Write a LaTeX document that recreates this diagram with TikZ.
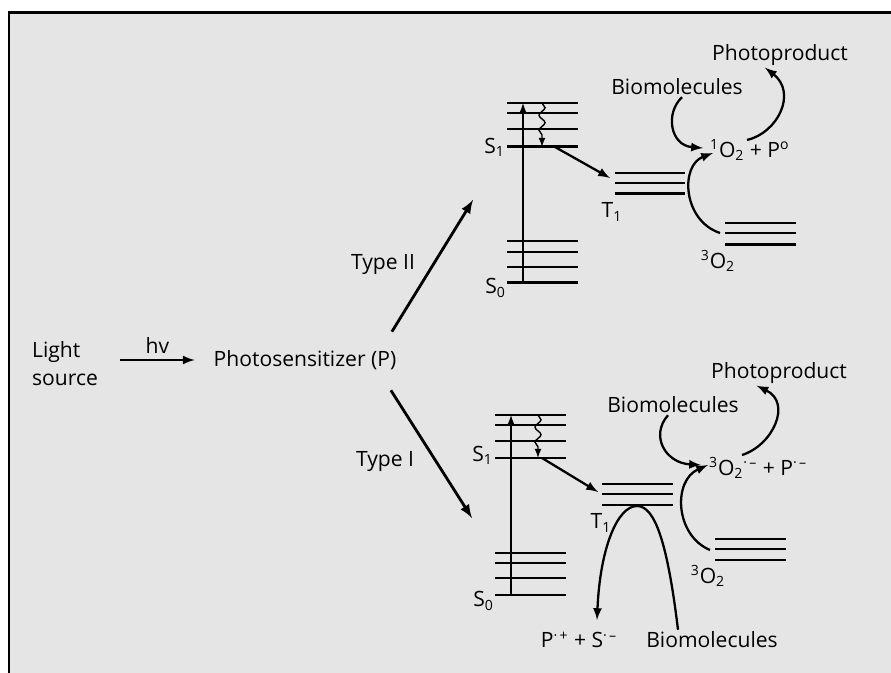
\documentclass[tikz,border=0pt]{standalone}
\usepackage{fontspec}
\setmainfont{Open Sans}
\usetikzlibrary{decorations.pathmorphing}

\begin{document}
\begin{tikzpicture}[
    >=latex,
    lvl/.style={line width=1.1pt},
    lvlbase/.style={line width=1.7pt},
    arr/.style={->, line width=1.3pt},
    bigarr/.style={->, line width=1.6pt},
    wave/.style={->, line width=0.8pt, decorate,
        decoration={snake, amplitude=0.6mm, segment length=3mm, post length=1mm}},
    lab/.style={font=\fontsize{12}{15.5}\selectfont, inner sep=1pt}
]

% background and frame
\useasboundingbox (0,0) rectangle (17.82,13.46);
\fill[black!10] (0.18,0) rectangle (17.82,13.2);
\draw[line width=1.7pt] (0.18,0) |- (17.82,13.2);

% light source and photosensitizer
\node[lab, align=left] (light) at (1.30,6.19) {Light\\source};
\node[lab] (ps) at (6.10,6.26) {Photosensitizer (P)};
\draw[arr] (light.east |- ps.west) ++(0.40,0) -- ([xshift=-0.34cm]ps.west)
    node[lab, midway, above=2pt] (hv) {hv};

% branches
\coordinate (tIIend) at (9.46,9.46);
\coordinate (tIend) at (9.44,3.10);
\draw[bigarr] ([shift={(-0.13,0.33)}]ps.north east) -- (tIIend);
\draw[bigarr] ([shift={(-0.15,-0.37)}]ps.south east) -- (tIend);
\node[lab] (typeII) at (7.66,8.16) {Type II};
\node[lab] (typeI) at (7.70,4.22) {Type I};

% ---- Type II levels ----
\foreach \y in {11.40,11.20,10.88} \draw[lvl] (10.14,\y) -- (11.56,\y);
\draw[lvlbase] (10.14,10.52) -- (11.56,10.52);
\foreach \y in {8.64,8.42,8.12} \draw[lvl] (10.14,\y) -- (11.56,\y);
\draw[lvlbase] (10.14,7.80) -- (11.56,7.80);
\node[lab, left] (sIIa) at (10.14,10.52) {S\textsubscript{1}};
\node[lab, left] (sIIb) at (10.16,7.70) {S\textsubscript{0}};
\draw[arr, line width=1pt] (10.46,7.80) -- (10.46,11.40);
\draw[wave] (10.84,11.40) -- (10.84,10.52);

% T1
\foreach \y in {10.00,9.80} \draw[lvl] (12.30,\y) -- (13.70,\y);
\draw[lvlbase] (12.30,9.58) -- (13.70,9.58);
\node[lab] (tIIa) at (12.24,9.22) {T\textsubscript{1}};
\draw[arr] (11.10,10.52) -- (12.20,9.90);

% 3O2
\foreach \y in {9.00,8.80} \draw[lvl] (14.50,\y) -- (15.92,\y);
\draw[lvlbase] (14.50,8.56) -- (15.92,8.56);
\node[lab] (oxIIa) at (14.36,8.24) {\textsuperscript{3}O\textsubscript{2}};

% singlet oxygen step
\node[lab, anchor=west] (oxIIb) at (14.16,10.46) {\textsuperscript{1}O\textsubscript{2} + P\textsuperscript{o}};
\node[lab] (bioII) at (13.54,11.72) {Biomolecules};
\node[lab] (prodII) at (15.60,12.36) {Photoproduct};
\draw[arr] (14.40,8.80) .. controls (13.65,9.05) and (13.60,10.15) .. (14.26,10.40);
\draw[arr] ([xshift=0.1cm]bioII.south) .. controls (13.30,11.20) and (13.40,10.55) .. (14.06,10.50);
\draw[arr] (14.94,10.66) .. controls (15.55,10.80) and (15.95,11.60) .. ([xshift=-0.3cm]prodII.south);

% ---- Type I levels ----
\foreach \y in {5.16,4.96,4.64} \draw[lvl] (9.90,\y) -- (11.32,\y);
\draw[lvlbase] (9.90,4.30) -- (11.32,4.30);
\foreach \y in {2.40,2.20,1.90} \draw[lvl] (9.90,\y) -- (11.32,\y);
\draw[lvlbase] (9.90,1.56) -- (11.32,1.56);
\node[lab, left] (sIa) at (9.90,4.36) {S\textsubscript{1}};
\node[lab, left] (sIb) at (9.92,1.44) {S\textsubscript{0}};
\draw[arr, line width=1pt] (10.22,1.56) -- (10.22,5.16);
\draw[wave] (10.76,5.16) -- (10.76,4.30);

% T1
\foreach \y in {3.78,3.58} \draw[lvl] (12.04,\y) -- (13.46,\y);
\draw[lvlbase] (12.04,3.36) -- (13.46,3.36);
\node[lab] (tIa) at (12.02,3.00) {T\textsubscript{1}};
\draw[arr] (10.84,4.30) -- (11.96,3.62);

% 3O2
\foreach \y in {2.68,2.48} \draw[lvl] (14.30,\y) -- (15.72,\y);
\draw[lvlbase] (14.30,2.26) -- (15.72,2.26);
\node[lab] (oxIa) at (14.16,1.94) {\textsuperscript{3}O\textsubscript{2}};

% superoxide step
\node[lab, anchor=west] (oxIb) at (14.14,4.10) {\textsuperscript{3}O\textsubscript{2}\textsuperscript{·\,–} + P\textsuperscript{·\,–}};
\node[lab] (bioI) at (13.46,5.36) {Biomolecules};
\node[lab] (prodI) at (15.58,6.00) {Photoproduct};
\draw[arr] (14.20,2.46) .. controls (13.50,2.75) and (13.45,3.85) .. (14.16,4.16);
\draw[arr] ([xshift=-0.1cm]bioI.south) .. controls (13.00,4.75) and (13.30,4.20) .. (14.02,4.16);
\draw[arr] (14.84,4.36) .. controls (15.45,4.55) and (15.85,5.40) .. ([xshift=-0.45cm]prodI.south);

% electron transfer
\node[lab] (ions) at (11.58,0.66) {P\textsuperscript{·\,+} + S\textsuperscript{·\,–}};
\node[lab] (bioIb) at (14.24,0.66) {Biomolecules};
\draw[arr] ([xshift=-0.68cm]bioIb.north) .. controls (13.35,2.60) and (13.10,3.34) .. (12.74,3.34)
    .. controls (12.35,3.34) and (12.00,2.50) .. (11.94,1.06);

\end{tikzpicture}
\end{document}
